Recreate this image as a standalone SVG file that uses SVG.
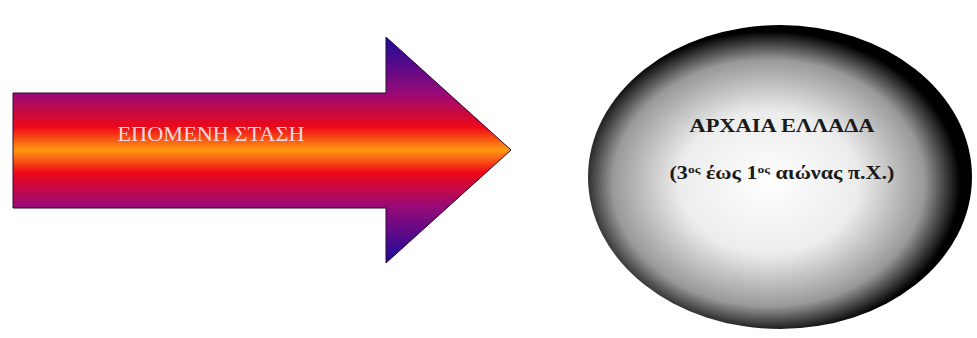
<svg xmlns="http://www.w3.org/2000/svg" width="977" height="338" viewBox="0 0 977 338">
<defs>
<linearGradient id="ag" x1="0" y1="37" x2="0" y2="263" gradientUnits="userSpaceOnUse">
<stop offset="0" stop-color="#1a0a9a"/>
<stop offset="0.25" stop-color="#980a78"/>
<stop offset="0.4" stop-color="#ee0818"/>
<stop offset="0.5" stop-color="#ff9a10"/>
<stop offset="0.6" stop-color="#ee0818"/>
<stop offset="0.75" stop-color="#980a78"/>
<stop offset="1" stop-color="#1a0a9a"/>
</linearGradient>
<radialGradient id="eg" cx="0.47" cy="0.52" r="0.52">
<stop offset="0" stop-color="#ffffff"/>
<stop offset="0.45" stop-color="#ececec"/>
<stop offset="0.78" stop-color="#999999"/>
<stop offset="0.96" stop-color="#000000"/>
</radialGradient>
<style>
.t1{font-family:"Liberation Serif",serif;font-size:20px;fill:#f4d8e0;text-anchor:middle}
.t2{font-family:"Liberation Serif",serif;font-size:18px;font-weight:bold;fill:#1a1a1a;text-anchor:middle}
</style>
</defs>
<g id="arrow">
<path d="M13,93 L386,93 L386,37 L511,150 L386,263 L386,208 L13,208 Z" fill="url(#ag)" stroke="#300830" stroke-width="1"/>
<text class="t1" x="211" y="141" textLength="187" lengthAdjust="spacingAndGlyphs">ΕΠΟΜΕΝΗ ΣΤΑΣΗ</text>
</g>
<g id="ellipse">
<ellipse cx="780" cy="177" rx="192" ry="152" fill="url(#eg)"/>
<text class="t2" x="782" y="132" textLength="185" lengthAdjust="spacingAndGlyphs">ΑΡΧΑΙΑ ΕΛΛΑΔΑ</text>
<text class="t2" x="782" y="179" textLength="225" lengthAdjust="spacingAndGlyphs">(3<tspan font-size="11" dy="-6">ος</tspan><tspan dy="6"> έως 1</tspan><tspan font-size="11" dy="-6">ος</tspan><tspan dy="6"> αιώνας π.Χ.)</tspan></text>
</g>
<g id="connectors"/>
</svg>
